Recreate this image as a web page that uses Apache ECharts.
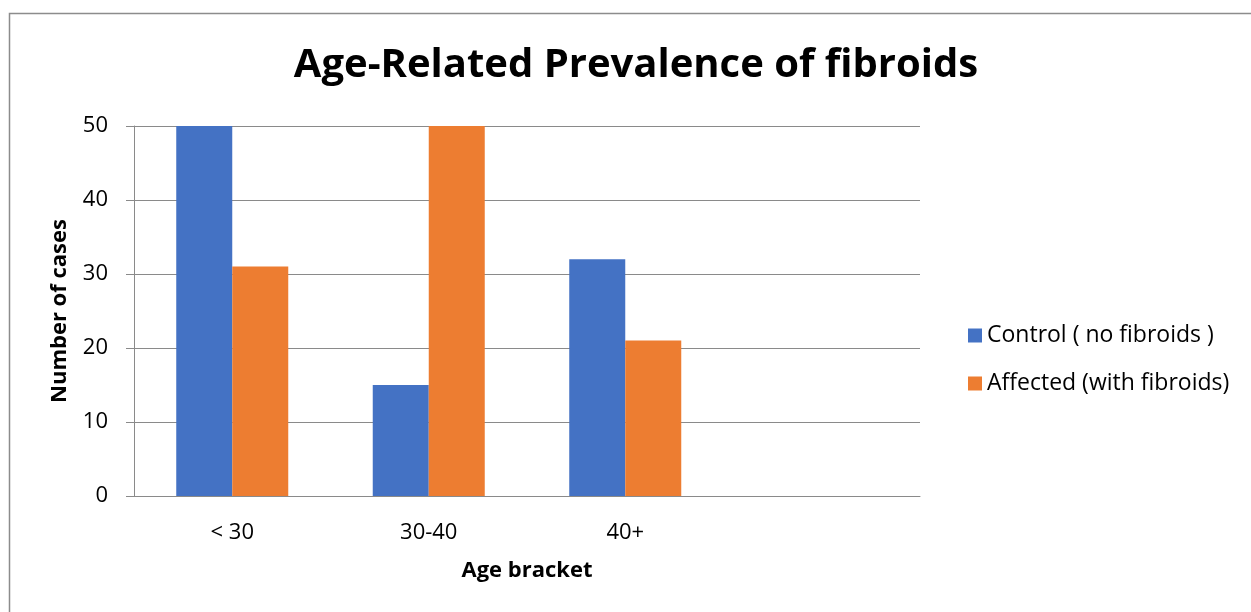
<!DOCTYPE html>
<html>
<head>
<meta charset="utf-8">
<script src="https://cdn.jsdelivr.net/npm/echarts@6/dist/echarts.min.js"></script>
<style>
  html, body { margin: 0; padding: 0; background: #fff; }
  #chart { width: 1251px; height: 612px; }
</style>
</head>
<body>
<div id="chart"></div>
<script>
// Age brackets (a fourth, empty slot keeps the right-hand space of the plot)
const categories = ['< 30', '30-40', '40+', ''];
const controlCases = [50, 15, 32, null];
const affectedCases = [31, 50, 21, null];
const yTicks = { min: 0, max: 50, interval: 10 };

const FONT = '"Open Sans", "Noto Sans", sans-serif';
const GRID_COLOR = '#8a8a8a';

const chart = echarts.init(document.getElementById('chart'), null, { renderer: 'canvas' });

chart.setOption({
  backgroundColor: '#ffffff',
  animation: false,
  graphic: [{
    type: 'rect',
    shape: { x: 9.5, y: 13.5, width: 1300, height: 700 },
    style: { fill: 'none', stroke: '#8c8c8c', lineWidth: 1.5 },
    silent: true
  }],
  title: {
    text: 'Age-Related Prevalence of fibroids',
    left: 631,
    top: 41,
    textAlign: 'center',
    textStyle: { fontFamily: FONT, fontSize: 40, fontWeight: 'bold', color: '#000' }
  },
  legend: {
    orient: 'vertical',
    left: 963,
    top: 319,
    itemWidth: 14,
    itemHeight: 14,
    itemGap: 25,
    icon: 'rect',
    textStyle: { fontFamily: FONT, fontSize: 23, color: '#000' },
    data: ['Control ( no fibroids )', 'Affected (with fibroids)']
  },
  grid: { left: 134, right: 1251 - 920, top: 126, bottom: 612 - 496, containLabel: false },
  xAxis: {
    type: 'category',
    data: categories,
    name: 'Age bracket',
    nameLocation: 'middle',
    nameGap: 64,
    nameTextStyle: { fontFamily: FONT, fontSize: 22, fontWeight: 'bold', color: '#000' },
    axisLine: { lineStyle: { color: GRID_COLOR, width: 1 } },
    axisTick: { show: false },
    axisLabel: { fontFamily: FONT, fontSize: 22, color: '#000', margin: 26 }
  },
  yAxis: {
    type: 'value',
    min: yTicks.min,
    max: yTicks.max,
    interval: yTicks.interval,
    name: 'Number of cases',
    nameLocation: 'middle',
    nameGap: 63,
    nameRotate: 90,
    nameTextStyle: { fontFamily: FONT, fontSize: 22, fontWeight: 'bold', color: '#000' },
    axisLine: { show: true, lineStyle: { color: GRID_COLOR, width: 1 } },
    axisTick: { show: true, inside: false, length: 8, lineStyle: { color: GRID_COLOR } },
    axisLabel: { fontFamily: FONT, fontSize: 22, color: '#000', margin: 26 },
    splitLine: { show: true, lineStyle: { color: GRID_COLOR, width: 1 } }
  },
  series: [
    {
      name: 'Control ( no fibroids )',
      type: 'bar',
      data: controlCases,
      itemStyle: { color: '#4472c4' },
      barGap: '0%',
      barCategoryGap: '43%'
    },
    {
      name: 'Affected (with fibroids)',
      type: 'bar',
      data: affectedCases,
      itemStyle: { color: '#ed7d31' },
      barGap: '0%',
      barCategoryGap: '43%'
    }
  ]
});
</script>
</body>
</html>
